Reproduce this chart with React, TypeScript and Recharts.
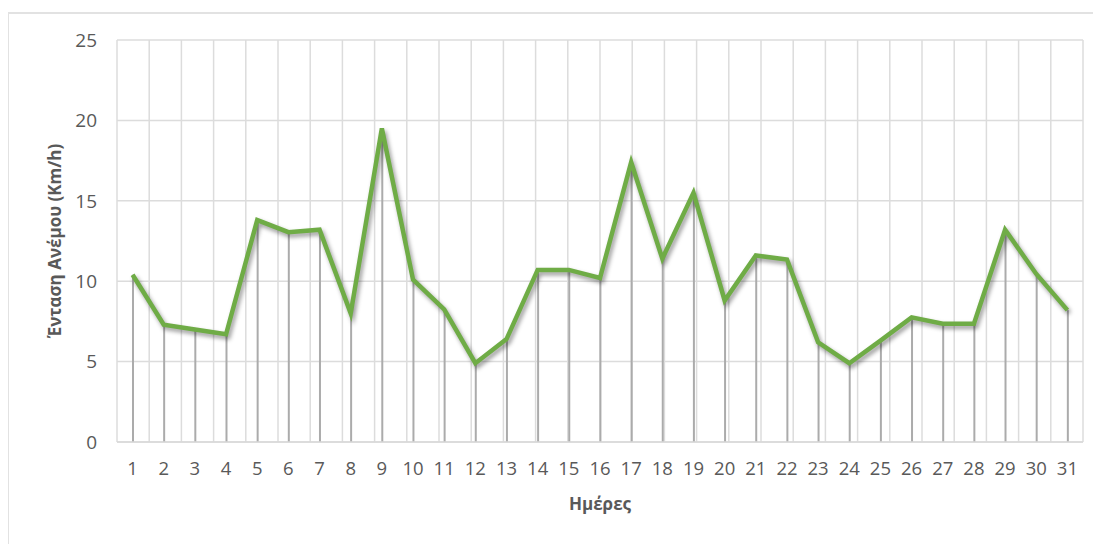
import React from 'react';
import { ComposedChart, Line, Bar, XAxis, YAxis, CartesianGrid } from 'recharts';

const days = ['1','2','3','4','5','6','7','8','9','10','11','12','13','14','15','16','17','18','19','20','21','22','23','24','25','26','27','28','29','30','31'];
const windSpeed = [10.4, 7.3, 7.0, 6.7, 13.8, 13.05, 13.2, 8.0, 19.5, 10.1, 8.25, 4.9, 6.4, 10.7, 10.7, 10.2, 17.4, 11.4, 15.5, 8.8, 11.6, 11.35, 6.2, 4.9, 6.3, 7.75, 7.35, 7.35, 13.2, 10.45, 8.2];
const yTicks = [0, 5, 10, 15, 20, 25];
const gridBoundaries = [0,1,2,3,4,5,6,7,8,9,10,11,12,13,14,15,16,17,18,19,20,21,22,23,24,25,26,27,28,29,30,31];

const data = days.map((d, i) => ({ day: d, speed: windSpeed[i] }));

const FONT = '"Open Sans", "DejaVu Sans", sans-serif';
const TEXT = '#595959';

export default function App() {
  return (
    <div style={{ position: 'relative', width: 1101, height: 544, margin: '-8px 0 0 -8px', overflow: 'hidden', background: '#fff' }}>
      <div style={{ position: 'absolute', left: 7, top: 12, width: 1110, height: 560, border: '2px solid #e2e2e2', boxSizing: 'border-box' }} />
      <div style={{ position: 'absolute', left: 0, top: 0 }}>
        <ComposedChart width={1101} height={544} data={data} margin={{ top: 40, right: 18, bottom: 32, left: 0 }}>
          <CartesianGrid xAxisId="grid" stroke="#dcdcdc" strokeWidth={1.5} vertical={true} horizontal={true} />
          <XAxis
            dataKey="day"
            tickLine={false}
            tickSize={0}
            tickMargin={20}
            axisLine={{ stroke: '#d9d9d9', strokeWidth: 1.5 }}
            fontSize={18.5}
            fontFamily={FONT}
            tick={{ fill: TEXT, fontSize: 18.5, fontFamily: FONT }}
            interval={0}
            height={70}
            label={{ value: 'Ημέρες', position: 'insideBottom', offset: 2, fill: TEXT, fontSize: 17, fontWeight: 700, fontFamily: FONT }}
          />
          <XAxis xAxisId="grid" type="number" domain={[0, 31]} ticks={gridBoundaries} hide allowDataOverflow />
          <YAxis
            domain={[0, 25]}
            ticks={yTicks}
            width={117}
            tickLine={false}
            tickSize={0}
            tickMargin={20}
            axisLine={false}
            fontSize={19}
            fontFamily={FONT}
            tick={{ fill: TEXT, fontSize: 19, fontFamily: FONT }}
            label={{ value: 'Ένταση  Ανέμου (Km/h)', angle: -90, position: 'center', dx: -4, fill: TEXT, fontSize: 17, fontWeight: 700, fontFamily: FONT }}
          />
          <Bar dataKey="speed" barSize={2} fill="#ababab" isAnimationActive={false} />
          <Line
            dataKey="speed"
            stroke="#6fac46"
            strokeWidth={4.5}
            dot={false}
            activeDot={false}
            strokeLinejoin="miter"
            isAnimationActive={false}
            style={{ filter: 'drop-shadow(2px 3px 2px rgba(0,0,0,0.4))' }}
          />
        </ComposedChart>
      </div>
    </div>
  );
}
